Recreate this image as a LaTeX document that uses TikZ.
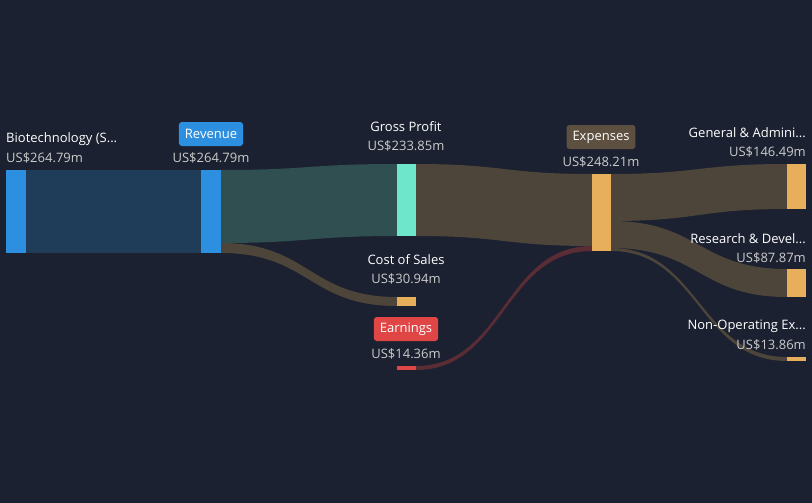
\documentclass[tikz,border=0pt]{standalone}
\usepackage{fontspec}
\setmainfont{Open Sans}
\begin{document}
\begin{tikzpicture}[x=1pt,y=-1pt,
  bar/.style={draw=none},
  lab/.style={text=white,font=\fontsize{13}{15}\selectfont,inner sep=0pt},
  val/.style={text=black!20,font=\fontsize{13}{15}\selectfont,inner sep=0pt},
  badge/.style={rounded corners=3pt,text=white,font=\fontsize{13}{15}\selectfont,inner xsep=6pt,inner ysep=4pt,minimum height=24pt}]
\definecolor{bg}{HTML}{1B2130}
\definecolor{blu}{HTML}{2D8FE0}
\definecolor{fblu}{HTML}{1F3D58}
\definecolor{teal}{HTML}{6DE6CB}
\definecolor{fteal}{HTML}{2F4F50}
\definecolor{org}{HTML}{E7AE5C}
\definecolor{fbrn}{HTML}{4D453A}
\definecolor{red}{HTML}{E04646}
\definecolor{fred}{HTML}{5A2D35}
\definecolor{bdg}{HTML}{5E5040}
\fill[bg] (0,0) rectangle (812,503);
\useasboundingbox (0,0) rectangle (812,503);
% flows
\fill[fblu] (26,170) rectangle (201,253);
\fill[fteal] (221,170) .. controls (309,170) and (309,164) .. (397,164) -- (397,236) .. controls (309,236) and (309,243) .. (221,243) -- cycle;
\fill[fbrn] (221,243) .. controls (309,243) and (309,297) .. (397,297) -- (397,306) .. controls (309,306) and (309,253) .. (221,253) -- cycle;
\fill[fbrn] (416,164) .. controls (504,164) and (504,174) .. (592,174) -- (592,246) .. controls (504,246) and (504,236) .. (416,236) -- cycle;
\fill[fred] (416,366) .. controls (504,366) and (504,246) .. (592,246) -- (592,251) .. controls (504,251) and (504,370) .. (416,370) -- cycle;
\fill[fbrn] (611,174) .. controls (699,174) and (699,164) .. (787,164) -- (787,209) .. controls (699,209) and (699,221) .. (611,221) -- cycle;
\fill[fbrn] (611,221) .. controls (699,221) and (699,269) .. (787,269) -- (787,297) .. controls (699,297) and (699,248) .. (611,248) -- cycle;
\fill[fbrn] (611,248) .. controls (699,248) and (699,357) .. (787,357) -- (787,361) .. controls (699,361) and (699,251) .. (611,251) -- cycle;
% bars
\fill[blu] (6,170) rectangle (26,253) node[coordinate] (bio) {};
\fill[blu] (201,170) rectangle (221,253) node[coordinate] (rev) {};
\fill[teal] (397,164) rectangle (416,236);
\fill[org] (397,297) rectangle (416,306);
\fill[red] (397,366) rectangle (416,370);
\fill[org] (592,174) rectangle (611,251);
\fill[org] (787,164) rectangle (806,209);
\fill[org] (787,269) rectangle (806,297);
\fill[org] (787,357) rectangle (806,361);
% labels
\node[lab,anchor=west] (l1) at (6,139) {Biotechnology (S...};
\node[val,anchor=west] (v1) at (6,158) {US\$264.79m};
\node[badge,fill=blu] (l2) at (211,134) {Revenue};
\node[val] (v2) at (211,158) {US\$264.79m};
\node[lab] (l3) at (406,127) {Gross Profit};
\node[val] (v3) at (406,146) {US\$233.85m};
\node[lab] (l4) at (406,260) {Cost of Sales};
\node[val] (v4) at (406,279) {US\$30.94m};
\node[badge,fill=red] (l5) at (406,329) {Earnings};
\node[val] (v5) at (406,354) {US\$14.36m};
\node[badge,fill=bdg] (l6) at (601,137) {Expenses};
\node[val] (v6) at (601,162) {US\$248.21m};
\node[lab,anchor=east] (l7) at (806,133) {General \& Admini...};
\node[val,anchor=east] (v7) at (806,152) {US\$146.49m};
\node[lab,anchor=east] (l8) at (806,239) {Research \& Devel...};
\node[val,anchor=east] (v8) at (806,258) {US\$87.87m};
\node[lab,anchor=east] (l9) at (806,326) {Non-Operating Ex...};
\node[val,anchor=east] (v9) at (806,345) {US\$13.86m};
\end{tikzpicture}
\end{document}
